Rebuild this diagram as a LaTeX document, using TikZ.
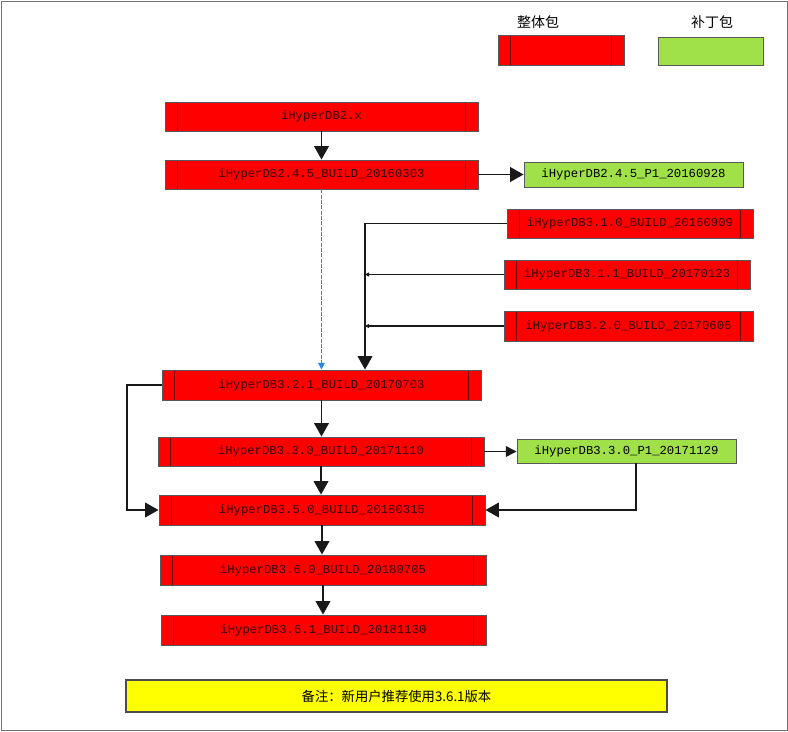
\documentclass[tikz,border=0pt]{standalone}
\usepackage{fontspec}
\setmonofont{Liberation Mono}
\newfontfamily\cjk{Noto Sans CJK SC}
\usetikzlibrary{arrows.meta}
\definecolor{boxred}{HTML}{FF0000}
\definecolor{boxgreen}{HTML}{A0E048}
\definecolor{noteyellow}{HTML}{FFFF00}
\definecolor{innerline}{HTML}{700000}
\definecolor{txtdark}{HTML}{3A0000}
\definecolor{dashblue}{HTML}{2E86DE}
\newcommand\pxbox[7]{%
  \node[#6, minimum width={(#4-#2)*0.75pt}, minimum height={(#5-#3)*0.75pt}]
    (#1) at ({(#2+#4)/2},{(#3+#5)/2}) {#7};}
\begin{document}
\begin{tikzpicture}[x=0.75pt,y=-0.75pt,
  lbl/.style={font=\ttfamily\fontsize{9.2}{11}\selectfont, text=txtdark},
  redbox/.style={draw=black!65, line width=0.7pt, fill=boxred, inner sep=0pt, lbl,
    path picture={
      \draw[innerline, line width=0.8pt]
        ([xshift=9.5pt]path picture bounding box.north west) -- ([xshift=9.5pt]path picture bounding box.south west)
        ([xshift=-9.5pt]path picture bounding box.north east) -- ([xshift=-9.5pt]path picture bounding box.south east);}},
  greenbox/.style={draw=black!65, line width=0.7pt, fill=boxgreen, inner sep=0pt, lbl, text=black},
  notebox/.style={draw=black!70, line width=0.8pt, fill=noteyellow, inner sep=0pt,
    font=\cjk\fontsize{10}{12}\selectfont},
  conn/.style={line width=1pt, draw=black!90},
  bigarrow/.style={conn, -{Triangle[width=11pt,length=10pt]}},
  midarrow/.style={conn, -{Triangle[width=8pt,length=8pt]}},
  smallarrow/.style={conn, -{Triangle[width=3pt,length=3pt]}},
  legendtxt/.style={font=\cjk\fontsize{10.5}{12}\selectfont}
]
\path[use as bounding box] (0,0) rectangle (788,731);
\pxbox{frame}{1}{1}{787}{730}{draw=black!55, line width=0.6pt}{}

% legend
\pxbox{legred}{498}{35}{624}{65}{redbox}{}
\pxbox{leggreen}{658}{37}{763}{65}{greenbox}{}
\node[legendtxt] (legredtxt) at (538,22) {整体包};
\node[legendtxt] (leggreentxt) at (712,22) {补丁包};

% main boxes
\pxbox{b2x}{165}{102}{478}{131}{redbox}{iHyperDB2.x}
\pxbox{b245}{165}{160}{478}{189}{redbox}{iHyperDB2.4.5\_BUILD\_20160303}
\pxbox{g245}{524}{162}{743}{187}{greenbox}{iHyperDB2.4.5\_P1\_20160928}
\pxbox{b310}{507}{209}{753}{238}{redbox}{iHyperDB3.1.0\_BUILD\_20160909}
\pxbox{b311}{504}{260}{750}{289}{redbox}{iHyperDB3.1.1\_BUILD\_20170123}
\pxbox{b320}{504}{311}{753}{341}{redbox}{iHyperDB3.2.0\_BUILD\_20170606}
\pxbox{b321}{162}{370}{481}{400}{redbox}{iHyperDB3.2.1\_BUILD\_20170703}
\pxbox{b330}{158}{437}{484}{466}{redbox}{iHyperDB3.3.0\_BUILD\_20171110}
\pxbox{g330}{517}{439}{736}{463}{greenbox}{iHyperDB3.3.0\_P1\_20171129}
\pxbox{b350}{159}{495}{485}{525}{redbox}{iHyperDB3.5.0\_BUILD\_20180315}
\pxbox{b360}{160}{555}{486}{585}{redbox}{iHyperDB3.6.0\_BUILD\_20180705}
\pxbox{b361}{161}{615}{486}{645}{redbox}{iHyperDB3.6.1\_BUILD\_20181130}

\pxbox{note}{126}{680}{667}{712}{notebox}{备注：新用户推荐使用3.6.1版本}

% connectors
\draw[bigarrow] (b2x.south) -- (b2x.south |- b245.north);
\draw[bigarrow] (b245.east) -- (g245.west);
\draw[dashblue, line width=1pt, dash pattern=on 3pt off 1pt, -{Triangle[width=5pt,length=5pt]}] (b245.south) -- (b245.south |- b321.north);

\coordinate (join) at (365,223.5);
\draw[bigarrow] (b310.west) -- (join) -- (join |- b321.north);
\draw[smallarrow] (b311.west) -- (join |- b311.west);
\draw[smallarrow] (b320.west) -- (join |- b320.west);

\draw[bigarrow] (b321.south) -- (b321.south |- b330.north);
\draw[midarrow] (b330.east) -- (b330.east -| g330.west);
\draw[bigarrow] (b330.south) -- (b330.south |- b350.north);

\coordinate (leftloop) at (127,385);
\draw[bigarrow] (b321.west) -- (leftloop) |- (b350.west);
\coordinate (rightdrop) at (636,463);
\draw[bigarrow] (rightdrop) |- (b350.east);

\draw[bigarrow] (b350.south) -- (b350.south |- b360.north);
\draw[bigarrow] (b360.south) -- (b360.south |- b361.north);
\end{tikzpicture}
\end{document}
